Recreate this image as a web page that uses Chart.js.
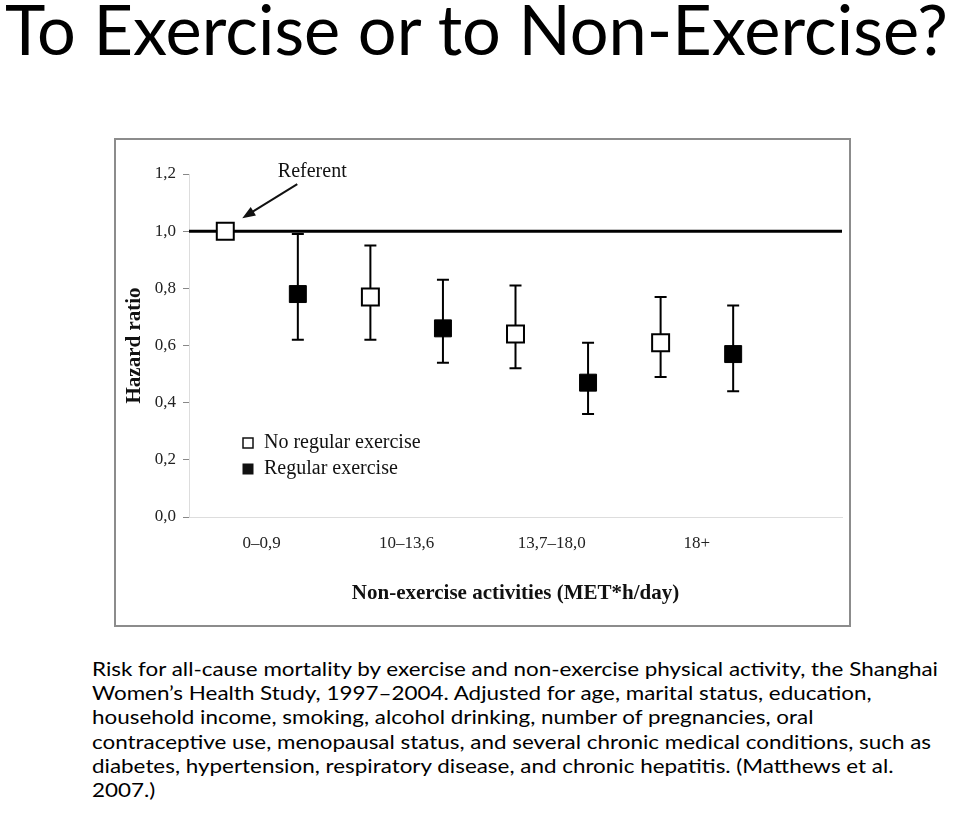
<!DOCTYPE html>
<html>
<head>
<meta charset="utf-8">
<title>To Exercise or to Non-Exercise?</title>
<script src="https://cdn.jsdelivr.net/npm/chart.js@4.4.1/dist/chart.umd.min.js"></script>
<style>
    body { margin: 0; width: 960px; height: 830px; background: #fff; position: relative; overflow: hidden; }
    #title {
        position: absolute; left: 5px; top: -7px;
        font-family: Lato, sans-serif; font-size: 70px; line-height: 70px;
        white-space: nowrap; transform-origin: 0 0; color: #000;
    }
    #box {
        position: absolute; left: 114px; top: 138px;
        width: 733px; height: 485px; border: 2px solid #8c8c8c;
    }
    #caption {
        position: absolute; left: 92px; top: 657px;
        font-family: Lato, sans-serif; font-size: 19px; line-height: 24.2px;
        white-space: nowrap; transform-origin: 0 0; color: #000;
    }
</style>
</head>
<body>
<div id="title"><span>To Exercise or to Non-Exercise?</span></div>
<div id="box"><canvas id="chart"></canvas></div>
<div id="caption">
    <div><span id="cap1">Risk for all-cause mortality by exercise and non-exercise physical activity, the Shanghai</span></div>
    <div>Women’s Health Study, 1997–2004. Adjusted for age, marital status, education,</div>
    <div>household income, smoking, alcohol drinking, number of pregnancies, oral</div>
    <div>contraceptive use, menopausal status, and several chronic medical conditions, such as</div>
    <div>diabetes, hypertension, respiratory disease, and chronic hepatitis. (Matthews et al.</div>
    <div>2007.)</div>
</div>
<script>
// --- Data ---
const groupLabels = ['0–0,9', '10–13,6', '13,7–18,0', '18+'];

const noExHR   = [1.00, 0.77, 0.64, 0.61];
const noExLow  = [null, 0.62, 0.52, 0.49];
const noExHigh = [null, 0.95, 0.81, 0.77];

const exHR   = [0.78, 0.66, 0.47, 0.57];
const exLow  = [0.62, 0.54, 0.36, 0.44];
const exHigh = [0.99, 0.83, 0.61, 0.74];

const yTicks = [0, 0.2, 0.4, 0.6, 0.8, 1.0, 1.2];
const referent = 1.0;

const serif = "'Liberation Serif', 'Times New Roman', serif";

// open markers sit left of the group centre, filled ones right
const toPoints = (hr, lo, hi, shift) =>
    hr.map((v, i) => ({ x: i + shift, y: v, lo: lo[i], hi: hi[i] }));

// --- Error bars + referent line, drawn under the markers ---
const errorBars = {
    id: 'errorBars',
    beforeDatasetsDraw(chart) {
        const { ctx, chartArea, scales: { y } } = chart;
        ctx.save();
        ctx.strokeStyle = '#000';

        // horizontal line at HR = 1
        const yRef = y.getPixelForValue(referent);
        ctx.lineWidth = 3;
        ctx.beginPath();
        ctx.moveTo(chartArea.left, yRef);
        ctx.lineTo(chartArea.right, yRef);
        ctx.stroke();

        ctx.lineWidth = 2;
        chart.data.datasets.forEach((ds, di) => {
            chart.getDatasetMeta(di).data.forEach((pt, i) => {
                const raw = ds.data[i];
                if (raw.lo == null) return;
                const top = y.getPixelForValue(raw.hi);
                const bot = y.getPixelForValue(raw.lo);
                ctx.beginPath();
                ctx.moveTo(pt.x, top);
                ctx.lineTo(pt.x, bot);
                ctx.moveTo(pt.x - 6, top);
                ctx.lineTo(pt.x + 6, top);
                ctx.moveTo(pt.x - 6, bot);
                ctx.lineTo(pt.x + 6, bot);
                ctx.stroke();
            });
        });
        ctx.restore();
    }
};

// --- "Referent" note and the in-plot legend ---
const notes = {
    id: 'notes',
    afterDatasetsDraw(chart) {
        const { ctx, chartArea } = chart;
        const ref = chart.getDatasetMeta(0).data[0];
        ctx.save();
        ctx.fillStyle = '#111';
        ctx.strokeStyle = '#111';

        ctx.font = '20px ' + serif;
        ctx.textAlign = 'center';
        ctx.textBaseline = 'middle';
        ctx.fillText('Referent', ref.x + 87, ref.y - 59);

        // arrow
        const x0 = ref.x + 72, y0 = ref.y - 47;
        const x1 = ref.x + 17, y1 = ref.y - 13;
        const ang = Math.atan2(y1 - y0, x1 - x0);
        ctx.lineWidth = 2;
        ctx.beginPath();
        ctx.moveTo(x0, y0);
        ctx.lineTo(x1 - 8 * Math.cos(ang), y1 - 8 * Math.sin(ang));
        ctx.stroke();
        ctx.beginPath();
        ctx.moveTo(x1, y1);
        ctx.lineTo(x1 - 13 * Math.cos(ang) + 5 * Math.sin(ang), y1 - 13 * Math.sin(ang) - 5 * Math.cos(ang));
        ctx.lineTo(x1 - 13 * Math.cos(ang) - 5 * Math.sin(ang), y1 - 13 * Math.sin(ang) + 5 * Math.cos(ang));
        ctx.closePath();
        ctx.fill();

        // legend
        ctx.textAlign = 'left';
        ctx.font = '20px ' + serif;
        chart.data.datasets.forEach((ds, i) => {
            const cx = chartArea.left + 59;
            const cy = chartArea.top + 269 + i * 26;
            ctx.lineWidth = 1.5;
            if (ds.backgroundColor === '#fff') {
                ctx.strokeRect(cx - 5, cy - 5, 10, 10);
            } else {
                ctx.fillRect(cx - 5.5, cy - 5.5, 11, 11);
            }
            ctx.fillText(ds.label, cx + 16, cy);
        });
        ctx.restore();
    }
};

new Chart(document.getElementById('chart'), {
    type: 'scatter',
    data: {
        datasets: [
            {
                label: 'No regular exercise',
                data: toPoints(noExHR, noExLow, noExHigh, -0.25),
                pointStyle: 'rect',
                pointRadius: 12,
                backgroundColor: '#fff',
                borderColor: '#000',
                borderWidth: 2
            },
            {
                label: 'Regular exercise',
                data: toPoints(exHR, exLow, exHigh, 0.25),
                pointStyle: 'rect',
                pointRadius: 12,
                backgroundColor: '#000',
                borderColor: '#000',
                borderWidth: 1
            }
        ]
    },
    plugins: [errorBars, notes],
    options: {
        responsive: true,
        maintainAspectRatio: false,
        animation: false,
        // big rect markers would otherwise push the right edge in
        layout: { autoPadding: false, padding: { top: 34, right: 7, left: 0, bottom: 0 } },
        plugins: {
            legend: { display: false },
            tooltip: { enabled: false }
        },
        scales: {
            x: {
                type: 'linear',
                min: -0.5,
                max: 4,
                afterBuildTicks: (scale) => {
                    scale.ticks = groupLabels.map((_, i) => ({ value: i }));
                },
                afterFit: (scale) => {
                    scale.height = 108;
                    scale.paddingLeft = 0;
                    scale.paddingRight = 0;
                },
                grid: { drawOnChartArea: false, drawTicks: false },
                border: { display: true, color: '#ddd', width: 1 },
                ticks: {
                    autoSkip: false,
                    maxRotation: 0,
                    padding: 16,
                    color: '#222',
                    font: { family: serif, size: 17 },
                    callback: (value) => groupLabels[value] ?? ''
                },
                title: {
                    display: true,
                    text: 'Non-exercise activities (MET*h/day)',
                    color: '#111',
                    font: { family: serif, size: 21, weight: 'bold' },
                    padding: { top: 0, bottom: 19 }
                }
            },
            y: {
                min: 0,
                max: 1.2,
                afterBuildTicks: (scale) => {
                    scale.ticks = yTicks.map(v => ({ value: v }));
                },
                afterFit: (scale) => { scale.width = 73; },
                grid: { drawOnChartArea: false, drawTicks: true, tickLength: 6, tickColor: '#888' },
                border: { display: true, color: '#ddd', width: 1 },
                ticks: {
                    padding: 7,
                    color: '#222',
                    font: { family: serif, size: 17 },
                    callback: (value) => value.toFixed(1).replace('.', ',')
                },
                title: {
                    display: true,
                    text: 'Hazard ratio',
                    color: '#111',
                    font: { family: serif, size: 21, weight: 'bold' },
                    padding: { top: 6, bottom: 0 }
                }
            }
        }
    }
});

// squeeze the Lato text to the width of the original Calibri lines
const title = document.getElementById('title');
const titleW = title.firstElementChild.getBoundingClientRect().width;
title.style.transform = 'scaleX(' + (943 / titleW) + ')';

const caption = document.getElementById('caption');
const capW = document.getElementById('cap1').getBoundingClientRect().width;
caption.style.transform = 'scaleX(' + (846 / capW) + ')';
</script>
</body>
</html>
